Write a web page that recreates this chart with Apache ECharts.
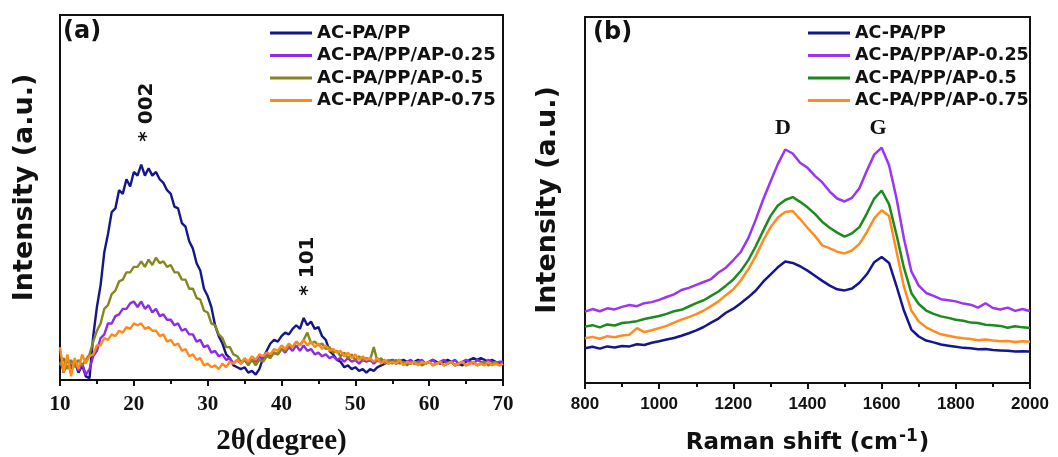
<!DOCTYPE html>
<html><head><meta charset="utf-8">
<script src="https://cdn.jsdelivr.net/npm/echarts@6/dist/echarts.min.js"></script>
<style>html,body{margin:0;padding:0;background:#fff}#c{width:1058px;height:457px}</style>
</head><body><div id="c"></div>
<script>
// ---------- names & colours ----------
const seriesNames = ['AC-PA/PP','AC-PA/PP/AP-0.25','AC-PA/PP/AP-0.5','AC-PA/PP/AP-0.75'];
const colorsA = ['#15168a','#8e2be4','#868620','#ff8a17'];
const colorsB = ['#14178c','#9a35f2','#1d8a1d','#ff8c1c'];

// ---------- panel (a) XRD ----------
const xrdTheta = [
 10,10.5,11,11.5,12,12.5,13,13.5,14,14.5,
 15,15.5,16,16.5,17,17.5,18,18.5,19,19.5,
 20,20.5,21,21.5,22,22.5,23,23.5,24,24.5,
 25,25.5,26,26.5,27,27.5,28,28.5,29,29.5,
 30,30.5,31,31.5,32,32.5,33,33.5,34,34.5,
 35,35.5,36,36.5,37,37.5,38,38.5,39,39.5,
 40,40.5,41,41.5,42,42.5,43,43.5,44,44.5,
 45,45.5,46,46.5,47,47.5,48,48.5,49,49.5,
 50,50.5,51,51.5,52,52.5,53,53.5,54,54.5,
 55,55.5,56,56.5,57,57.5,58,58.5,59,59.5,
 60,60.5,61,61.5,62,62.5,63,63.5,64,64.5,
 65,65.5,66,66.5,67,67.5,68,68.5,69,69.5,
 70];
const xrdACPAPP = [
 8,2,6,3,5,2,4,1,0.5,12,
 20,26,35,40,46,47,52,51,55,53,
 57,56,59,56,58,56,57,55,54,52,
 51,47.5,47,43,42,38,36,32,30,25,
 23,20,15,12,10,7,6,4,3.5,3,
 3.5,2,2.5,1.5,3,6,8,10,11,10.5,
 12,13,12.5,14,15,14,17,15,16,14,
 14.5,12,11,8,7,5.5,5,3.5,4,3,
 3.5,2.5,3,2,3,2.5,3.5,4,4.5,5,
 5.5,4.5,5,5.5,5,4.5,5,5.5,5,4.5,
 5,5.5,5,4.5,5,5.5,5,4,4.5,4,
 5,5.5,6,5.5,6,5.5,5,5.5,5,4.5,
 5];
const xrdAP025 = [
 5,2.5,6,3.5,5.5,2.5,4.5,1.5,3,6.5,
 8,11.5,12.5,15.5,15.5,17.5,18,19.5,19.5,21,
 21.5,20,21.5,19.5,20.5,18.5,19.5,17.5,18,16.5,
 16.5,15,15.5,13.5,14,12.5,12.5,10.5,11,9,
 9.5,7.5,8,6.5,7,5.5,6,4.5,5.5,4.5,
 5.5,4.5,5.5,5,6.5,5.5,7,6.5,7.5,7,
 8.5,7.5,9,8,9.5,8,9.5,8,8.5,7,
 7.5,6.5,7,6,6.5,5.5,6,5,6,5,
 5.5,4.5,5.5,5,5.5,4.5,5.5,5,5.5,4.5,
 5.5,5,5.5,4.5,5,5.5,4.5,5,5.5,4.5,
 5,5.5,4.5,5,5.5,4.5,5,5.5,4.5,5,
 5.5,5,4.5,5.5,5,4.5,5.5,5,4.5,5,
 5];
const xrdAP05 = [
 4,6,3,5.5,3.5,5.5,4,5.5,7,10.5,
 13.5,15.5,19.5,20.5,23.5,24.5,27,27.5,29.5,29.5,
 31,31,32.5,31,33,31.5,33.5,32,32.5,31,
 31.5,29.5,29.5,27.5,27.5,25,25,22.5,22,19,
 18.5,15.5,15,12.5,11.5,9,9,7,6.5,5,
 5.5,4,5.5,4,5.5,5,6.5,6,7.5,7,
 8.5,8,9.5,9,10.5,9.5,11,13,10,10.5,
 9.5,10,8.5,9,7.5,8,6.5,7.5,6,7,
 5.5,6.5,5.5,6,5.5,9,5,6,4.5,5.5,
 4.5,5.5,4.5,5,4,5,4.5,5,4,4.5,
 5,4,4.5,5,4,4.5,5,4,4.5,5,
 4,4.5,5,4,4.5,5,4,4.5,5,4,
 4.5];
const xrdAP075 = [
 9,2,7,1,6,3,7,4.5,6.5,7,
 9.5,9.5,11.5,11,12.5,12,13.5,13,14.5,14,
 15.5,15,15.5,14,14.5,13.5,13.5,12,12.5,10.5,
 11,9.5,10,8,8.5,6.5,7,5.5,6,4,
 4.5,3.5,4,3,4.5,3.5,5,4.5,5.5,4.5,
 6,5,6.5,5.5,7,6.5,7.5,7,8.5,8,
 9.5,8.5,10,9,10.5,9.5,11,9.5,10.5,9,
 10,8.5,9.5,8,8.5,7.5,8,6.5,7.5,6,
 7,5.5,6.5,5.5,6,5,6,4.5,5.5,4.5,
 5,4.5,5.5,4,5,4.5,5,4,5,4.5,
 5,4,4.5,5,4,4.5,5,4,4.5,5,
 4,4.5,5,4,4.5,4,5,4,4.5,4,
 4.5];

// ---------- panel (b) Raman ----------
const ramanShift = [
 800,820,840,860,880,900,920,940,960,980,
 1000,1020,1040,1060,1080,1100,1120,1140,1160,1180,
 1200,1220,1240,1260,1280,1300,1320,1340,1360,1380,
 1400,1420,1440,1460,1480,1500,1520,1540,1560,1580,
 1600,1620,1640,1660,1680,1700,1720,1740,1760,1780,
 1800,1820,1840,1860,1880,1900,1920,1940,1960,1980,
 2000];
const ramanACPAPP = [
 9.5,9.9,9.4,10,9.7,10.1,10,10.6,10.4,11,
 11.4,11.9,12.3,12.9,13.6,14.4,15.3,16.5,17.6,19.2,
 20.3,21.8,23.4,25.2,27.6,29.6,31.6,33.2,32.8,31.9,
 30.7,29.3,27.9,26.6,25.6,25.3,25.8,27.4,29.7,33,
 34.4,32.8,26.5,19.8,14.6,12.7,11.6,11.1,10.5,10.2,
 9.9,9.6,9.5,9.2,9.3,9,8.9,8.8,8.6,8.7,
 8.6];
const ramanAP025 = [
 19.5,20.2,19.6,20.4,20.1,20.8,21.3,21,21.8,22.1,
 22.7,23.5,24.2,25.4,26,26.8,27.6,28.4,30.2,31.5,
 33.6,35.8,39.5,44.5,50,55,59.8,63.8,62.7,60.2,
 58.8,56.6,54.8,52.3,50.4,49.6,50.6,53.2,58,62.4,
 64.3,59.5,50.5,39.5,30.5,26.6,24.6,23.8,22.9,22.6,
 22.3,21.7,21.4,20.6,21.8,20.5,20.1,20.6,19.7,20.2,
 19.6];
const ramanAP05 = [
 15.4,15.8,15.2,16,15.7,16.4,16.6,16.9,17.5,17.9,
 18.3,18.9,19.6,20,20.9,21.8,22.6,23.8,25,26.6,
 28.3,30.6,33.5,37.3,41.5,45.6,48.5,50,50.8,49.5,
 48,46.2,44,42.4,41.1,40,40.9,42.6,46.3,50.4,
 52.6,48.8,40.5,31.5,24.6,21.6,19.8,18.9,18.2,17.8,
 17.3,17,16.5,16.4,15.9,15.8,15.6,15.1,15.5,15.2,
 15];
const ramanAP075 = [
 12.2,12.6,12.1,12.8,12.5,13,13.2,15,13.9,14.4,
 15,15.6,16.5,17.3,18,18.8,19.8,21,22.3,24,
 25.6,28,31,34.6,38.8,42.5,45.2,46.7,47,44.8,
 42.4,40.2,37.6,36.8,35.9,35.4,36.2,38,41.2,45,
 47.2,45.6,36,26.3,19.8,16.8,15.2,14.2,13.3,12.9,
 12.5,12.2,12,11.7,11.9,11.6,11.4,11.5,11.2,11.4,
 11.3];

// ---------- annotations (data coordinates) ----------
const annotA = [{text:'* 002', x:21.8, y:73.4}, {text:'* 101', x:43.5, y:31.2}];
const annotB = [{text:'D', x:1334, y:69.7}, {text:'G', x:1590, y:69.7}];

const SANS = '"DejaVu Sans", Verdana, sans-serif';
const SERIF = '"Liberation Serif", "Times New Roman", serif';
const INK = '#111';

const xrdSets = [xrdACPAPP, xrdAP025, xrdAP05, xrdAP075];
const ramanSets = [ramanACPAPP, ramanAP025, ramanAP05, ramanAP075];
const zip = (xs, ys) => xs.map((x, i) => [x, ys[i]]);
const B_SUFFIX = ' [b]';

const series = [];
xrdSets.forEach((vals, i) => series.push({
  name: seriesNames[i], type: 'line', xAxisIndex: 0, yAxisIndex: 0,
  data: zip(xrdTheta, vals), symbol: 'none', showSymbol: false,
  lineStyle: {width: 2.4, color: colorsA[i]}, itemStyle: {color: colorsA[i]}, animation: false
}));
ramanSets.forEach((vals, i) => series.push({
  name: seriesNames[i] + B_SUFFIX, type: 'line', xAxisIndex: 1, yAxisIndex: 1,
  data: zip(ramanShift, vals), symbol: 'none', showSymbol: false,
  lineStyle: {width: 2.5, color: colorsB[i]}, itemStyle: {color: colorsB[i]}, animation: false
}));

const axisLineStyle = {lineStyle: {color: INK, width: 2}};
const legendBase = {
  orient: 'vertical', top: 24, itemGap: 4.5, itemWidth: 42, itemHeight: 3, icon: 'rect',
  selectedMode: false, padding: 0,
  textStyle: {fontFamily: SANS, fontWeight: 'bold', fontSize: 18, lineHeight: 18, color: INK}
};

const chart = echarts.init(document.getElementById('c'));
chart.setOption({
  animation: false,
  backgroundColor: '#fff',
  grid: [
    {left: 60, top: 15, width: 443, height: 365, show: true, borderColor: INK, borderWidth: 2,
     containLabel: false, outerBoundsMode: 'none'},
    {left: 585, top: 17, width: 445, height: 366, show: true, borderColor: INK, borderWidth: 2,
     containLabel: false, outerBoundsMode: 'none'}
  ],
  xAxis: [
    {gridIndex: 0, type: 'value', min: 10, max: 70, interval: 10,
     axisLine: axisLineStyle, axisTick: {length: 6, lineStyle: {color: INK, width: 2}},
     minorTick: {show: true, splitNumber: 2, length: 4, lineStyle: {color: INK, width: 2}},
     splitLine: {show: false},
     axisLabel: {fontFamily: SERIF, fontWeight: 'bold', fontSize: 21, color: INK, margin: 14},
     name: '2θ(degree)', nameLocation: 'middle', nameGap: 47,
     nameTextStyle: {fontFamily: SERIF, fontWeight: 'bold', fontSize: 29, color: INK}},
    {gridIndex: 1, type: 'value', min: 800, max: 2000, interval: 200,
     axisLine: axisLineStyle, axisTick: {length: 6, lineStyle: {color: INK, width: 2}},
     minorTick: {show: true, splitNumber: 2, length: 4, lineStyle: {color: INK, width: 2}},
     splitLine: {show: false},
     axisLabel: {fontFamily: '"Liberation Sans", Arial, sans-serif', fontWeight: 'bold', fontSize: 17,
       color: INK, margin: 13, formatter: v => String(v)},
     name: '{m|Raman shift (cm}{s|-1}{m|)}', nameLocation: 'middle', nameGap: 45,
     nameTextStyle: {rich: {
       m: {fontFamily: SANS, fontWeight: 'bold', fontSize: 23, lineHeight: 30, color: INK},
       s: {fontFamily: SANS, fontWeight: 'bold', fontSize: 17, lineHeight: 17, verticalAlign: 'top', color: INK, padding: [0, 1, 0, 1]}
     }}}
  ],
  yAxis: [
    {gridIndex: 0, type: 'value', min: 0, max: 100,
     axisLine: {show: true, lineStyle: {color: INK, width: 2}}, axisTick: {show: false},
     axisLabel: {show: false}, splitLine: {show: false},
     name: 'Intensity (a.u.)', nameLocation: 'middle', nameRotate: 90, nameGap: 22,
     nameTextStyle: {fontFamily: SANS, fontWeight: 'bold', fontSize: 27, color: INK, padding: [0, 0, 0, 20]}},
    {gridIndex: 1, type: 'value', min: 0, max: 100,
     axisLine: {show: true, lineStyle: {color: INK, width: 2}}, axisTick: {show: false},
     axisLabel: {show: false}, splitLine: {show: false},
     name: 'Intensity (a.u.)', nameLocation: 'middle', nameRotate: 90, nameGap: 24,
     nameTextStyle: {fontFamily: SANS, fontWeight: 'bold', fontSize: 27, color: INK}}
  ],
  legend: [
    Object.assign({}, legendBase, {left: 270, data: seriesNames.slice()}),
    Object.assign({}, legendBase, {left: 808, data: seriesNames.map(n => n + B_SUFFIX),
      textStyle: Object.assign({}, legendBase.textStyle, {fontSize: 17.5}),
      formatter: n => n.replace(B_SUFFIX, '')})
  ],
  series: series
});

// annotations placed through the axes' own scales
const graphics = [];
annotA.forEach(a => {
  const p = chart.convertToPixel({gridIndex: 0}, [a.x, a.y]);
  graphics.push({type: 'text', x: p[0], y: p[1], rotation: Math.PI / 2, z: 100,
    style: {text: a.text, font: 'bold 20px ' + SANS, fill: INK, align: 'center', verticalAlign: 'middle'}});
});
annotB.forEach(a => {
  const p = chart.convertToPixel({gridIndex: 1}, [a.x, a.y]);
  graphics.push({type: 'text', x: p[0], y: p[1], z: 100,
    style: {text: a.text, font: 'bold 22px ' + SERIF, fill: INK, align: 'center', verticalAlign: 'middle'}});
});
const pa = chart.convertToPixel({gridIndex: 0}, [10, 100]);
const pb = chart.convertToPixel({gridIndex: 1}, [800, 100]);
graphics.push({type: 'text', x: pa[0] + 3, y: pa[1] + 17, z: 100,
  style: {text: '(a)', font: 'bold 24px ' + SANS, fill: INK, align: 'left', verticalAlign: 'middle'}});
graphics.push({type: 'text', x: pb[0] + 8, y: pb[1] + 16, z: 100,
  style: {text: '(b)', font: 'bold 24px ' + SANS, fill: INK, align: 'left', verticalAlign: 'middle'}});
chart.setOption({graphic: graphics});
</script>
</body></html>
